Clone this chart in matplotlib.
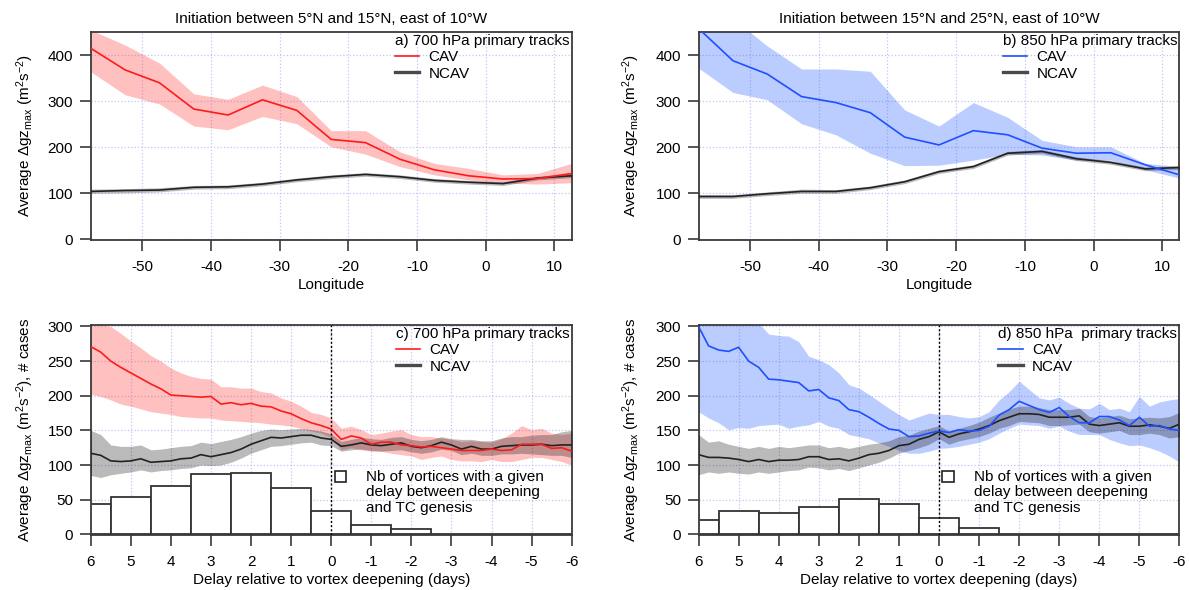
import numpy as np
import matplotlib
matplotlib.use('Agg')
import matplotlib.pyplot as plt
from matplotlib.lines import Line2D
from matplotlib.patches import Patch

plt.rcParams['font.family'] = ['Liberation Sans', 'DejaVu Sans']
plt.rcParams['mathtext.fontset'] = 'custom'
plt.rcParams['mathtext.rm'] = 'Liberation Sans'
plt.rcParams['mathtext.it'] = 'Liberation Sans:italic'
plt.rcParams['axes.unicode_minus'] = False

## longitude bins (centres, every 5 deg)
lon = [-57.5, -52.5, -47.5, -42.5, -37.5, -32.5, -27.5, -22.5, -17.5, -12.5, -7.5, -2.5, 2.5, 7.5, 12.5]

## a) 700 hPa, 5N-15N
cav_a = [415, 368, 340, 283, 270, 303, 280, 217, 210, 174, 151, 138, 131, 132, 143]
cav_a_hi = [455, 422, 383, 316, 304, 335, 310, 236, 236, 190, 165, 154, 140, 143, 165]
cav_a_lo = [364, 314, 294, 246, 238, 267, 251, 201, 185, 158, 140, 129, 122, 120, 123]
ncav_a = [104, 106, 107, 113, 114, 120, 129, 136, 141, 136, 128, 124, 121, 133, 138]
ncav_a_hi = [109, 110, 112, 117, 118, 124, 133, 140, 145, 140, 132, 128, 125, 137, 143]
ncav_a_lo = [100, 101, 103, 109, 110, 116, 125, 132, 137, 132, 124, 120, 117, 129, 134]

## b) 850 hPa, 15N-25N
cav_b = [458, 388, 359, 310, 297, 275, 222, 205, 236, 227, 198, 187, 188, 162, 140]
cav_b_hi = [520, 480, 420, 370, 370, 365, 281, 246, 297, 265, 215, 201, 201, 165, 158]
cav_b_lo = [372, 319, 303, 251, 227, 187, 160, 161, 172, 185, 183, 172, 172, 151, 133]
ncav_b = [93, 93, 99, 104, 104, 112, 125, 147, 158, 187, 191, 175, 167, 153, 156]
ncav_b_hi = [97, 97, 103, 109, 108, 116, 129, 151, 162, 191, 195, 179, 171, 157, 160]
ncav_b_lo = [89, 89, 95, 100, 100, 108, 121, 143, 154, 183, 187, 171, 163, 149, 152]

## delay relative to deepening (days), 6-hourly from +6 to -6
days = np.linspace(6, -6, 49)

## c) 700 hPa composites
cav_c = [271, 263, 250, 241, 233, 225, 217, 210, 201, 200, 199, 198, 199, 188, 190, 187, 189, 185, 184, 178, 174, 167, 161, 157, 152,
         137, 142, 139, 130, 133, 133, 129, 128, 126, 127, 125, 123, 121, 121, 121, 123, 121, 122, 130, 130, 130, 124, 125, 120]
cav_c_hi = [305, 303, 300, 290, 279, 269, 258, 250, 240, 233, 228, 225, 224, 213, 213, 211, 211, 206, 204, 197, 192, 185, 176, 173, 168,
            153, 156, 151, 144, 146, 149, 151, 144, 141, 141, 139, 137, 134, 135, 134, 133, 138, 146, 157, 151, 153, 146, 144, 146]
cav_c_lo = [202, 199, 194, 188, 185, 181, 177, 175, 173, 170, 169, 168, 168, 165, 164, 163, 162, 161, 159, 158, 156, 153, 149, 146, 140,
            122, 125, 122, 120, 120, 117, 115, 113, 108, 111, 113, 108, 106, 106, 105, 108, 105, 105, 108, 111, 111, 108, 105, 100]
ncav_c = [117, 114, 106, 105, 106, 109, 104, 105, 106, 109, 110, 115, 112, 115, 118, 123, 130, 135, 140, 139, 141, 143, 143, 139, 137,
          127, 129, 132, 129, 128, 130, 132, 127, 125, 128, 133, 129, 123, 127, 123, 123, 127, 128, 129, 129, 130, 128, 129, 129]
ncav_c_hi = [150, 144, 129, 127, 127, 129, 122, 123, 125, 127, 128, 133, 131, 134, 137, 141, 146, 150, 152, 151, 152, 153, 151, 149, 145,
             134, 137, 140, 138, 137, 140, 141, 137, 135, 137, 141, 138, 137, 137, 135, 135, 139, 141, 141, 143, 144, 144, 148, 150]
ncav_c_lo = [85, 82, 86, 88, 90, 93, 90, 92, 93, 95, 96, 100, 99, 100, 104, 110, 117, 122, 127, 128, 130, 132, 133, 129, 128,
             120, 122, 123, 121, 120, 121, 122, 119, 117, 119, 123, 121, 115, 117, 114, 114, 116, 116, 117, 116, 115, 114, 114, 111]

## d) 850 hPa composites
cav_d = [300, 272, 266, 264, 270, 250, 241, 224, 223, 221, 219, 207, 209, 197, 193, 180, 177, 169, 160, 152, 150, 141, 142, 146, 149,
         147, 151, 149, 150, 156, 172, 180, 192, 186, 180, 176, 183, 170, 161, 161, 170, 170, 165, 157, 169, 156, 157, 152, 150]
cav_d_hi = [330, 325, 320, 318, 315, 310, 305, 289, 287, 286, 278, 257, 252, 245, 233, 216, 211, 202, 192, 182, 173, 165, 170, 175, 173,
            173, 170, 168, 170, 177, 194, 206, 221, 209, 197, 194, 198, 189, 182, 181, 189, 180, 182, 177, 199, 185, 191, 194, 196]
cav_d_lo = [177, 168, 161, 151, 154, 153, 157, 158, 159, 153, 156, 158, 163, 156, 153, 144, 141, 138, 132, 127, 121, 117, 117, 120, 124,
            125, 127, 130, 133, 138, 146, 153, 159, 158, 157, 153, 156, 149, 144, 144, 144, 137, 132, 128, 129, 125, 120, 113, 104]
ncav_d = [115, 111, 111, 110, 108, 105, 108, 105, 107, 107, 108, 112, 112, 108, 109, 106, 110, 115, 117, 121, 128, 130, 137, 141, 148,
          140, 145, 148, 152, 157, 164, 169, 174, 174, 173, 169, 169, 169, 171, 159, 157, 159, 161, 156, 156, 158, 156, 153, 159]
ncav_d_hi = [144, 133, 135, 130, 127, 124, 127, 124, 127, 125, 127, 129, 129, 125, 127, 124, 127, 130, 132, 135, 141, 143, 149, 153, 157,
             149, 153, 157, 162, 169, 175, 181, 185, 185, 183, 180, 180, 180, 182, 170, 168, 170, 172, 167, 168, 169, 168, 170, 176]
ncav_d_lo = [86, 90, 88, 90, 88, 87, 90, 88, 90, 92, 93, 97, 96, 93, 95, 92, 96, 100, 104, 110, 117, 121, 125, 130, 138,
             130, 135, 138, 141, 146, 153, 157, 163, 162, 161, 157, 157, 158, 159, 148, 146, 148, 150, 144, 144, 146, 144, 139, 141]

## number of vortices per delay bin (1-day bins)
hist_days = [6, 5, 4, 3, 2, 1, 0, -1, -2, -3, -4, -5, -6]
nb_c = [44, 54, 70, 87, 89, 67, 34, 14, 7, 1, 0, 0, 0]
nb_d = [21, 34, 31, 39, 51, 44, 23, 9, 1, 0, 0, 0, 0]

RED = '#ff1a1a'
BLUE = '#1f4fff'
DARK = '#222222'
SPINE = '#3a3a3a'
YLAB_TOP = 'Average Δgz$_{\\mathrm{max}}$ (m$^{2}$s$^{-2}$)'
YLAB_BOT = 'Average Δgz$_{\\mathrm{max}}$ (m$^{2}$s$^{-2}$), # cases'
HIST_TXT = 'Nb of vortices with a given\ndelay between deepening\nand TC genesis'


def style_axes(ax):
    for s in ax.spines.values():
        s.set_color(SPINE)
        s.set_linewidth(1.3)
    ax.grid(True, color='#c4c4f4', linestyle=':', linewidth=0.9)
    ax.set_axisbelow(True)
    ax.tick_params(direction='out', length=8.2, width=1.2, color=SPINE, labelsize=11)
    ax.tick_params(axis='x', pad=6)
    ax.tick_params(axis='y', pad=4.5)


def draw_panel(ax, x, cav, cav_hi, cav_lo, ncav, ncav_hi, ncav_lo, col, band, title):
    ax.fill_between(x, cav_lo, cav_hi, color=band, alpha=0.33, lw=0, zorder=2)
    ax.fill_between(x, ncav_lo, ncav_hi, color='k', alpha=0.27, lw=0, zorder=3)
    ax.plot(x, cav, color=col, lw=1.2, zorder=5)
    ax.plot(x, ncav, color=DARK, lw=1.2, zorder=4)
    hnd = [Line2D([], [], color=col, lw=1.2), Line2D([], [], color='#4a4a4a', lw=2.4)]
    leg = ax.legend(hnd, ['CAV', 'NCAV'], title=title, loc='upper right', bbox_to_anchor=(1.0, 1.0),
                    frameon=False, fontsize=11, title_fontsize=11, alignment='left',
                    borderpad=0.15, borderaxespad=0.0, labelspacing=0.15, handlelength=1.6,
                    handletextpad=0.6)
    leg.set_zorder(10)
    return leg


fig = plt.figure(figsize=(11.89, 5.90), dpi=100)
ax_a = fig.add_axes([0.0763, 0.5932, 0.4045, 0.3531])
ax_b = fig.add_axes([0.5875, 0.5932, 0.4045, 0.3531])
ax_c = fig.add_axes([0.0763, 0.0932, 0.4045, 0.3564])
ax_d = fig.add_axes([0.5875, 0.0932, 0.4045, 0.3564])

## top row: along-track longitude
for ax, cav, hi, lo, nc, nhi, nlo, col, band, ttl, head in [
        (ax_a, cav_a, cav_a_hi, cav_a_lo, ncav_a, ncav_a_hi, ncav_a_lo, RED, (1, 0.25, 0.25),
         'a) 700 hPa primary tracks', 'Initiation between 5°N and 15°N, east of 10°W'),
        (ax_b, cav_b, cav_b_hi, cav_b_lo, ncav_b, ncav_b_hi, ncav_b_lo, BLUE, (0.2, 0.4, 1.0),
         'b) 850 hPa primary tracks', 'Initiation between 15°N and 25°N, east of 10°W')]:
    style_axes(ax)
    draw_panel(ax, lon, cav, hi, lo, nc, nhi, nlo, col, band, ttl)
    ax.set_xlim(-57.5, 12.5)
    ax.set_ylim(-1.5, 451)
    ax.set_xticks([-50, -40, -30, -20, -10, 0, 10])
    ax.set_yticks([0, 100, 200, 300, 400])
    ax.set_xlabel('Longitude', fontsize=11, labelpad=3)
    ax.set_ylabel(YLAB_TOP, fontsize=11)
    ax.set_title(head, fontsize=11, pad=6)

## bottom row: delay relative to deepening
for ax, cav, hi, lo, nc, nhi, nlo, nb, col, band, ttl in [
        (ax_c, cav_c, cav_c_hi, cav_c_lo, ncav_c, ncav_c_hi, ncav_c_lo, nb_c, RED, (1, 0.25, 0.25),
         'c) 700 hPa primary tracks'),
        (ax_d, cav_d, cav_d_hi, cav_d_lo, ncav_d, ncav_d_hi, ncav_d_lo, nb_d, BLUE, (0.2, 0.4, 1.0),
         'd) 850 hPa  primary tracks')]:
    style_axes(ax)
    ax.bar(hist_days, nb, width=1.0, facecolor='white', edgecolor='#333333', lw=1.3, zorder=1)
    leg = draw_panel(ax, days, cav, hi, lo, nc, nhi, nlo, col, band, ttl)
    ax.add_artist(leg)
    ax.axvline(0, color='k', ls=(0, (1.5, 1.5)), lw=1.0, zorder=6)
    ## histogram key: square aligned with first line of the text
    hleg = ax.legend([Patch(facecolor='white', edgecolor='#222222', lw=1.2)], [''],
                     loc='center left', bbox_to_anchor=(0.507, 0.271), frameon=False, fontsize=11,
                     borderpad=0.0, borderaxespad=0.0, handlelength=0.75, handleheight=0.7,
                     handletextpad=0.0)
    hleg.set_zorder(10)
    ax.text(0.573, 0.309, HIST_TXT, transform=ax.transAxes, ha='left', va='top',
            fontsize=11, linespacing=1.12, zorder=10)
    ax.set_xlim(6, -6)
    ax.set_ylim(-1, 302.5)
    ax.set_xticks([6, 5, 4, 3, 2, 1, 0, -1, -2, -3, -4, -5, -6])
    ax.set_yticks([0, 50, 100, 150, 200, 250, 300])
    ax.set_xlabel('Delay relative to vortex deepening (days)', fontsize=11, labelpad=3)
    ax.set_ylabel(YLAB_BOT, fontsize=11)

for ax in [ax_a, ax_c]:
    ax.yaxis.set_label_coords(-0.114, 0.5)
for ax in [ax_b, ax_d]:
    ax.yaxis.set_label_coords(-0.118, 0.5)

fig.savefig('out.png', dpi=100)
